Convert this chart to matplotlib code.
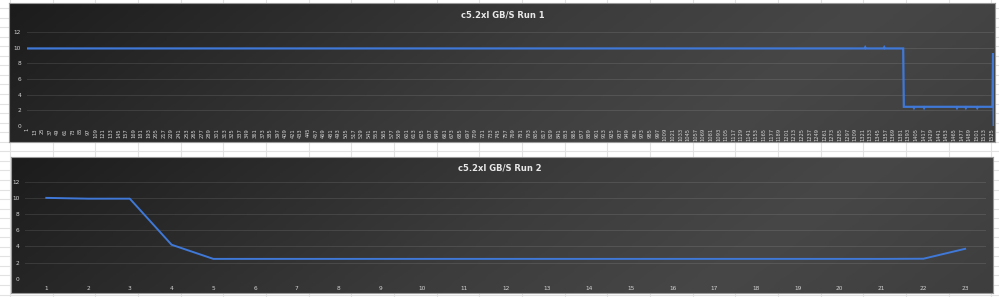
import numpy as np
import matplotlib
matplotlib.use("Agg")
import matplotlib.pyplot as plt
from matplotlib.colors import LinearSegmentedColormap

W, H = 999, 297

run1_levels = [9.9, 10.05, 9.9, 10.05, 9.9,
               2.45, 2.3, 2.45, 2.3, 2.45, 2.3, 2.45, 2.3, 2.45, 2.3, 2.45,
               9.3, 0.0]
run1_counts = [1324, 1, 29, 1, 30,
               16, 1, 15, 1, 51, 1, 13, 1, 17, 1, 24,
               1, 1]
run1 = np.repeat(run1_levels, run1_counts)
run1_x = np.arange(1, len(run1) + 1)
run1_ticks = list(range(1, len(run1) + 1, 12))

# Run 2
run2 = [10.0, 9.9, 9.9, 4.2, 2.45, 2.45, 2.45, 2.45, 2.45, 2.45, 2.45, 2.45,
        2.45, 2.45, 2.45, 2.45, 2.45, 2.45, 2.45, 2.45, 2.45, 2.47, 3.7]
run2_x = list(range(1, len(run2) + 1))

titles = ["c5.2xl GB/S Run 1", "c5.2xl GB/S Run 2"]
y_ticks = [0, 2, 4, 6, 8, 10, 12]

line_col = "#3f78d6"
lab_col = "#d2d2d2"
plt.rcParams['font.family'] = ['DejaVu Sans']

fig = plt.figure(figsize=(W / 100, H / 100), dpi=100)
fig.patch.set_facecolor("white")


def box(l, t, r, b):
    # pixel box -> figure fraction
    return [l / W, 1 - b / H, (r - l) / W, (b - t) / H]


# spreadsheet cells behind the charts
sheet = fig.add_axes([0, 0, 1, 1])
sheet.set_xlim(0, W)
sheet.set_ylim(H, 0)
sheet.axis("off")
for cx in np.arange(10, W, 42.67):
    sheet.axvline(cx, color="#e2e2e2", lw=0.8)
for ry in np.arange(8.05, H, 9.55):
    sheet.axhline(ry, color="#e2e2e2", lw=0.8)

cmap = LinearSegmentedColormap.from_list(
    "bg", ["#1c1c1c", "#2c2c2c", "#3c3c3c", "#474747", "#3e3e3e"])


def frame(rect):
    fa = fig.add_axes(rect)
    gx = np.linspace(0, 1, 300)
    gy = np.linspace(0, 1, 60)
    X, Y = np.meshgrid(gx, gy)
    Z = np.clip(0.85 * X + 0.15 * Y, 0, 1)
    fa.imshow(Z, cmap=cmap, extent=[0, 1, 0, 1], aspect="auto",
              origin="upper", vmin=0, vmax=1)
    fa.set_xticks([])
    fa.set_yticks([])
    for s in fa.spines.values():
        s.set_color("#9a9a9a")
        s.set_linewidth(0.8)
    return fa


def plot_area(rect, n):
    ax = fig.add_axes(rect)
    ax.patch.set_alpha(0)
    ax.set_xlim(0.5, n + 0.5)
    ax.set_ylim(0, 12)
    ax.set_yticks(y_ticks)
    ax.grid(axis="y", color="white", alpha=0.1, lw=0.8)
    ax.set_axisbelow(True)
    for s in ax.spines.values():
        s.set_visible(False)
    ax.tick_params(length=0, colors=lab_col, labelsize=4.2)
    return ax


# --- chart 1 ---
frame(box(9, 3, 995, 142))
fig.text(503 / W, 1 - 15 / H, titles[0], color="#e8e8e8", fontsize=6,
         fontweight="bold", ha="center", va="center")
ax1 = plot_area(box(27, 32, 994, 126), len(run1))
ax1.plot(run1_x, run1, color=line_col, lw=1.6, solid_joinstyle="miter")
ax1.set_xticks(run1_ticks)
ax1.set_xticklabels([str(t) for t in run1_ticks], rotation=90, fontsize=3.7)
ax1.tick_params(axis="x", pad=1.5)
ax1.tick_params(axis="y", pad=4.3)

# --- chart 2 ---
frame(box(11, 157, 993, 293))
fig.text(500 / W, 1 - 168 / H, titles[1], color="#e8e8e8", fontsize=6,
         fontweight="bold", ha="center", va="center")
ax2 = plot_area(box(25.4, 181.7, 986, 278.7), len(run2))
ax2.plot(run2_x, run2, color=line_col, lw=1.4)
ax2.set_xticks(run2_x)
ax2.tick_params(axis="x", pad=5.5)
ax2.tick_params(axis="y", pad=4.3)

fig.savefig("out.png", dpi=100)
